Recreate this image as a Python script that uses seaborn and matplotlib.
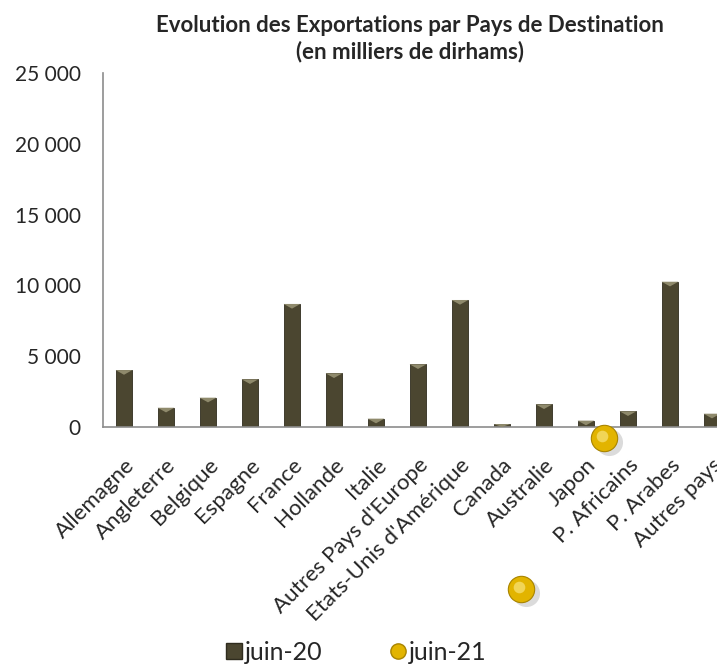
import numpy as np
import pandas as pd
import seaborn as sns
import matplotlib.pyplot as plt
from matplotlib.lines import Line2D
from matplotlib.ticker import FuncFormatter

sns.set_style('white')
plt.rcParams['font.family'] = ['Lato', 'DejaVu Sans']

pays = ['Allemagne', 'Angleterre', 'Belgique', 'Espagne', 'France', 'Hollande',
        'Italie', "Autres Pays d'Europe", "Etats-Unis d'Amérique", 'Canada',
        'Australie', 'Japon', 'P. Africains', 'P. Arabes', 'Autres pays']
juin20 = [4020, 1360, 2070, 3370, 8690, 3790, 590, 4430, 8970, 210,
          1600, 450, 1110, 10260, 940]
# juin-21 points as they appear in the source picture
juin21_x = [11.43, 9.45]
juin21_y = [-780, -11440]

bar_col = '#4b4630'
ball_col = '#e2b400'
axis_col = '#8c8c8c'

df = pd.DataFrame({'pays': pays, 'valeur': juin20})

fig = plt.figure(figsize=(7.17, 6.66), dpi=100)
ax = fig.add_axes([103/717, (666-427)/666, 630/717, (427-73)/666])

sns.barplot(data=df, x='pays', y='valeur', color=bar_col, width=0.4,
            saturation=1, edgecolor='#2f2c1e', linewidth=0.6, ax=ax)

# bevel highlight on top of bars
for i, v in enumerate(juin20):
    h = min(v, 330)
    ax.fill([i-0.2, i+0.2, i], [v, v, v-h], color='#8f8a6c', lw=0, zorder=3)

# soft shadow + ball + highlight
ax.scatter(np.array(juin21_x)+0.12, np.array(juin21_y)-250, s=380, color='#999999',
           alpha=0.35, linewidth=0, clip_on=False, zorder=4)
ax.scatter(juin21_x, juin21_y, s=360, color=ball_col, edgecolor='#a88400',
           linewidth=0.8, clip_on=False, zorder=5)
ax.scatter(np.array(juin21_x)-0.05, np.array(juin21_y)+150, s=70,
           color='#fff2a0', alpha=0.55, linewidth=0, clip_on=False, zorder=6)

ax.set_xlim(-0.5, 14.5)
ax.set_ylim(0, 25000)
ax.set_yticks(range(0, 25001, 5000))
ax.yaxis.set_major_formatter(FuncFormatter(lambda v, p: f'{int(v):,}'.replace(',', ' ')))
ax.set_xticks(range(len(pays)))
ax.set_xticklabels(pays, rotation=45, ha='right', rotation_mode='anchor', fontsize=16)
ax.set_xticks(np.arange(-0.5, 15, 1), minor=True)
ax.tick_params(axis='x', which='major', length=0, pad=20)
ax.tick_params(axis='x', which='minor', length=6, color=axis_col, direction='out')
ax.tick_params(axis='y', length=6, color=axis_col, direction='out', labelsize=15, pad=10)
ax.set_xlabel('')
ax.set_ylabel('')

for s in ['top', 'right']:
    ax.spines[s].set_visible(False)
for s in ['left', 'bottom']:
    ax.spines[s].set_color(axis_col)
    ax.spines[s].set_linewidth(1.2)

fig.text(410/717, 1-25/666, 'Evolution des Exportations par Pays de Destination',
         ha='center', va='center', fontsize=16, fontweight='bold')
fig.text(410/717, 1-52/666, '(en milliers de dirhams)',
         ha='center', va='center', fontsize=16, fontweight='bold')

handles = [Line2D([], [], marker='s', ls='', color=bar_col, markersize=11,
                  markeredgecolor='#2f2c1e'),
           Line2D([], [], marker='o', ls='', color=ball_col, markersize=11,
                  markeredgecolor='#a88400')]
fig.legend(handles, ['juin-20', 'juin-21'], loc='center', ncol=2,
           bbox_to_anchor=(355/717, 1-652/666), frameon=False, fontsize=18,
           handletextpad=0.05, columnspacing=2.6, handlelength=0.8)

fig.savefig('out.png', dpi=100)
